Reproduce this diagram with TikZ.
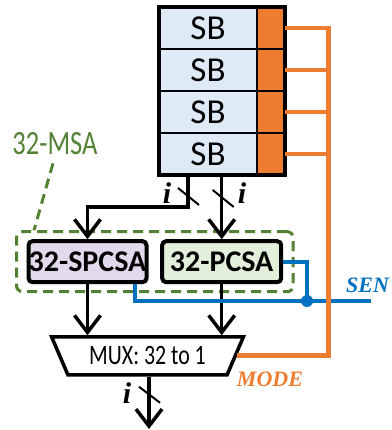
\documentclass[tikz,border=0pt]{standalone}
\usepackage{fontspec}
\usepackage{tikz}
\usetikzlibrary{arrows.meta,positioning,calc,fit,shapes.geometric}
\newfontfamily\calfont{Carlito}
\newfontfamily\narrowfont[FakeStretch=0.78]{Carlito}
\newfontfamily\serifbi{Liberation Serif}
\definecolor{Cell}{HTML}{DEEBF7}
\definecolor{Mode}{HTML}{ED7D31}
\definecolor{Lilac}{HTML}{E3D9ED}
\definecolor{Mint}{HTML}{E2EFDA}
\definecolor{Group}{HTML}{548235}
\definecolor{Sense}{HTML}{0070C0}
\tikzset{
  sbcell/.style={draw,fill=Cell,line width=2pt,outer sep=0pt,minimum width=98pt,minimum height=42pt,inner sep=0pt,font=\calfont\fontsize{35}{35}\selectfont},
  modecell/.style={draw,fill=Mode,line width=2pt,outer sep=0pt,minimum width=28pt,minimum height=42pt,inner sep=0pt},
  bank/.style={draw,line width=4pt,inner sep=0pt},
  sa/.style={draw,line width=4pt,rounded corners=4pt,minimum height=41pt,inner sep=0pt,font=\calfont\bfseries\fontsize{30}{30}\selectfont},
  group/.style={draw=Group,line width=3pt,dash pattern=on 10pt off 6pt,rounded corners=6pt},
  msalbl/.style={text=Group,inner sep=0pt,font=\narrowfont\fontsize{34}{34}\selectfont},
  mux/.style={trapezium,trapezium angle=57,shape border rotate=180,trapezium stretches=true,minimum width=192pt,minimum height=38pt,draw,fill=white,line width=3.5pt,inner sep=0pt,font=\narrowfont\fontsize{28}{28}\selectfont},
  flow/.style={-{Straight Barb[length=17pt,width=26pt]},line width=3.5pt},
  bus/.style={line width=2pt},
  buslbl/.style={inner sep=0pt,font=\serifbi\bfseries\itshape\fontsize{30}{30}\selectfont},
  sigl/.style={inner sep=0pt,font=\serifbi\bfseries\itshape\fontsize{22}{22}\selectfont},
  modeline/.style={draw=Mode,line width=3.5pt},
  rail/.style={draw=Mode,line width=5pt},
  senseline/.style={draw=Sense,line width=4pt}
}
\begin{document}
\begin{tikzpicture}[x=1pt,y=1pt]
  \useasboundingbox (0,0) rectangle (391,430);
  % sub-banks with their mode bits
  \node[sbcell] (sb1) at (208,402) {SB};
  \foreach \k [count=\j] in {2,3,4}
    \node[sbcell,below=0pt of sb\j] (sb\k) {SB};
  \foreach \k in {1,...,4}
    \node[modecell,right=0pt of sb\k] (mo\k) {};
  \node[bank,fit=(sb1)(mo4)] (bank) {};

  % sense amplifiers
  \node[sa,fill=Lilac,minimum width=118pt] (spcsa) at (87.5,168.3) {32-SPCSA};
  \node[sa,fill=Mint,minimum width=119pt,right=11.7pt of spcsa] (pcsa) {32-PCSA};
  \node[group,fit=(spcsa)(pcsa),inner xsep=10pt,inner ysep=7.5pt] (msa) {};
  \node[msalbl] (msalbl) at (55,286) {32-MSA};
  \draw[group] ($(msalbl.south)+(-2,-8)$) -- ($(msa.north west)+(19,0)$);

  \node[mux] (mux) at (147.5,74) {MUX: 32 to 1};

  % data paths
  \coordinate (outL) at (188,255);
  \coordinate (outR) at (bank.south -| pcsa.north);
  \coordinate (out) at (149,1);
  \draw[flow] (outL) -- ++(0,-32) -| (spcsa);
  \draw[flow] (outR) -- (pcsa);
  \draw[flow] (spcsa) -- (spcsa |- mux.north);
  \draw[flow] (pcsa) -- (pcsa |- mux.north);
  \draw[flow] (mux.south -| out) -- (out);

  % bus width marks
  \draw[bus] ($(outL)+(-10,-13)$) -- ++(21,-17);
  \draw[bus] ($(outR)+(-9,-13)$) -- ++(21,-17);
  \draw[bus] ($(mux.south -| out)+(-10,-10)$) -- ++(21,-16);
  \node[buslbl] at (167,237) {i};
  \node[buslbl] at (242,237) {i};
  \node[buslbl] at (127,37) {i};

  % sense enable
  \coordinate (tap) at (307,129);
  \coordinate (sen) at (371,129);
  \draw[senseline] ($(spcsa.south east)+(-14,0)$) |- (sen);
  \draw[senseline] (pcsa.east) -| (tap);
  \fill[Sense] (tap) circle (6);
  \node[sigl,text=Sense,anchor=base west] at (346,137) {SEN};

  % mode select
  \coordinate (modex) at (328,0);
  \foreach \k in {2,3,4}
    \draw[modeline] (mo\k.east) -- (mo\k.east -| modex);
  \draw[modeline] (mo1.east) -- (mo1.east -| modex);
  \draw[rail] ($(mo1.east -| modex)+(0,1.75)$) -- (mux.east -| modex) -- (mux.east);
  \node[sigl,text=Mode] at (270,51) {MODE};
\end{tikzpicture}
\end{document}
